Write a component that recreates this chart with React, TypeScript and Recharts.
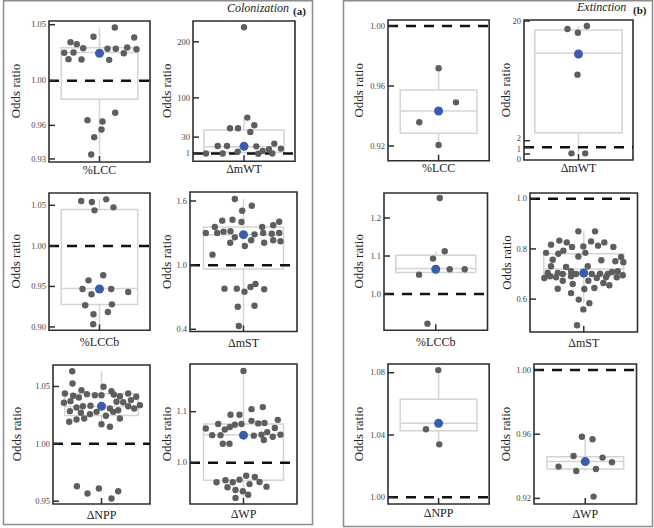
import { ComposedChart, XAxis, YAxis, Scatter, ReferenceArea, ReferenceLine } from "recharts";

const SERIF = '"Liberation Serif", "Times New Roman", serif';

// points: [swarm offset, odds ratio]
// box stats: [whisker low, q1, median, q3, whisker high]

// ---- Colonization (a)
const colLCC = [
  [15.3, 1.0475], [-6, 1.0392], [34.7, 1.0386], [-29, 1.0344], [-22.7, 1.0326],
  [-16.3, 1.029], [8, 1.0285], [16.3, 1.0285], [27.7, 1.0296], [37, 1.0281],
  [-35.3, 1.0249], [-26, 1.0252], [24.3, 1.0245], [-31, 1.0192], [-18, 1.0189], [9.7, 1.0186],
  [15.7, 0.9713], [-12, 0.9647], [3, 0.9635], [2, 0.9563], [-5.3, 0.9495], [-8.3, 0.934],
];
const colLCCBox = [0.934, 0.9834, 1.0252, 1.0294, 1.0475];
const colLCCMean = 1.0245;

const colMWT = [
  [0, 226], [3.3, 64.8], [-14, 45.8], [-6, 45.8], [10.3, 51.1], [6.3, 39.2],
  [-26.3, 14.2], [-17, 14.2], [12.3, 13.6], [30.3, 18.5], [25, 8.3], [37, 9.5],
  [18.7, 5.3], [-6.3, 4.2], [-38, 0.8], [-21.3, 0.8], [14.3, 0.3], [28.3, 0.8],
];
const colMWTBox = [0.3, 3, 13, 42.7, 64.8];
const colMWTMean = 13.6;

const colLCCb = [
  [-18.3, 1.0553], [-7.6, 1.0541], [6.7, 1.0574], [14, 1.0475], [-5, 1.0438],
  [3.7, 0.9637], [-11, 0.9575], [-17, 0.9468], [11.7, 0.9468], [28.7, 0.9431],
  [-8, 0.9403], [-14.3, 0.9267], [12.4, 0.9279], [8.4, 0.9184], [-6, 0.9156], [-6.3, 0.9033],
];
const colLCCbBox = [0.9033, 0.9276, 0.9473, 1.0447, 1.0574];
const colLCCbMean = 0.9468;

const colMST = [
  [-8.7, 1.619], [8.3, 1.556], [-1.3, 1.509], [-21.3, 1.416], [-11, 1.425], [-2, 1.404],
  [-28.7, 1.357], [18.7, 1.357], [29.7, 1.373], [35.7, 1.406], [-37.7, 1.301], [-26.3, 1.301],
  [-20, 1.313], [-13, 1.317], [-8.7, 1.26], [11, 1.288], [19.7, 1.301], [28.3, 1.294],
  [35.7, 1.301], [-13.3, 1.21], [1.3, 1.179], [7.7, 1.232], [20.7, 1.21], [29.7, 1.232],
  [37, 1.223], [-31, 1.098], [-19, 0.78], [-6.7, 0.78], [1, 0.752], [7, 0.796],
  [12, 0.824], [20.7, 0.774], [-5.7, 0.611], [11, 0.62], [-4.7, 0.431],
];
const colMSTBox = [0.431, 0.964, 1.285, 1.357, 1.619];
const colMSTMean = 1.285;

const colNPP = [
  [-29.3, 1.0633], [-29, 1.0526], [2, 1.0497], [-20, 1.0468], [-36.6, 1.0439], [-28.3, 1.0419],
  [-22.6, 1.0404], [-14.6, 1.0433], [-6.6, 1.0424], [0, 1.0424], [10, 1.0459], [12.3, 1.043],
  [18.4, 1.0415], [26.7, 1.0439], [34.7, 1.041], [-37.6, 1.0358], [-31, 1.0372], [-25, 1.0317],
  [-18.6, 1.0328], [-11, 1.0332], [8.4, 1.0308], [15, 1.0367], [21.7, 1.0363], [29.4, 1.0381],
  [26.7, 1.0328], [32.7, 1.0308], [38.4, 1.0337], [-31.6, 1.0285], [-20.6, 1.0271], [-11.6, 1.0259],
  [-5, 1.0279], [11.7, 1.0279], [16.7, 1.0293], [-32.3, 1.0192], [-25, 1.0212], [-17.3, 1.0221],
  [4.4, 1.0245], [18.4, 1.0221], [0, 1.0171], [8.4, 1.0149],
  [-24.6, 0.9631], [-14, 0.9567], [-2.6, 0.9611], [10, 0.9524], [16.7, 0.9587],
];
const colNPPBox = [1.0149, 1.0247, 1.0326, 1.0436, 1.0633];
const colNPPMean = 1.0328;

const colWP = [
  [0, 1.18], [-13, 1.094], [-4, 1.094], [8, 1.105], [19.3, 1.109], [34.3, 1.084],
  [-25.3, 1.076], [-8.7, 1.0745], [-2, 1.076], [8, 1.082], [14.7, 1.077], [21, 1.078],
  [-37.7, 1.067], [-18.7, 1.065], [-13.7, 1.07], [31.3, 1.068], [-31.3, 1.054], [-23, 1.054],
  [10.3, 1.053], [18, 1.055], [23.7, 1.06], [29.3, 1.051], [37, 1.055], [20.3, 1.0445],
  [-20.7, 1.037], [-14, 1.037],
  [-27, 0.9616], [-18, 0.9655], [-10.7, 0.9616], [-4, 0.9667], [2.7, 0.9745], [11.3, 0.972],
  [16, 0.962], [23, 0.953], [-16, 0.9518], [-8, 0.9465], [-0.7, 0.944], [6, 0.958],
  [4.7, 0.937], [-8, 0.931],
];
const colWPBox = [0.931, 0.9655, 1.055, 1.076, 1.18];
const colWPMean = 1.054;

// ---- Extinction (b)
const extLCC = [[0, 0.9718], [17.4, 0.9491], [-19.3, 0.9358], [0, 0.9207]];
const extLCCBox = [0.9207, 0.9285, 0.9433, 0.9573, 0.9718];
const extLCCMean = 0.9433;

const extMWT = [[-11, 18.8], [8.4, 19.25], [-0.6, 18.24], [-1, 11.93], [-7, 0.1], [6.7, 0.1]];
const extMWTBox = [0.1, 3.2, 15.14, 18.65, 19.25];
const extMWTMean = 15.04;

const extLCCb = [
  [4, 1.2526], [9, 1.1124], [-2.7, 1.0932], [-16.7, 1.051], [14, 1.065], [29, 1.065], [-8.3, 0.922],
];
const extLCCbBox = [1.051, 1.0563, 1.0668, 1.1018, 1.1124];
const extLCCbMean = 1.065;

const extMST = [
  [-5.4, 0.87], [11.3, 0.87], [-32.7, 0.817], [-24.4, 0.833], [-17, 0.826], [-11.7, 0.808],
  [-0.4, 0.81], [7.3, 0.83], [14.3, 0.813], [20.6, 0.826], [29.6, 0.808], [-37.7, 0.784],
  [-25.4, 0.781], [-20.4, 0.793], [-5.4, 0.77], [1.6, 0.784], [37.3, 0.768], [-31, 0.757],
  [17.6, 0.755], [31.6, 0.751], [39.6, 0.747], [-32.7, 0.731], [-17.7, 0.728], [4, 0.731],
  [-36, 0.704], [-26, 0.704], [-21, 0.7], [-12.7, 0.711], [-7.7, 0.7], [8, 0.7],
  [16.3, 0.701], [24, 0.7], [28.3, 0.708], [34, 0.711], [39, 0.695], [-39.4, 0.684],
  [-33.7, 0.691], [-27.7, 0.687], [-21, 0.673], [-12.7, 0.691], [4.6, 0.673], [13, 0.684],
  [19.6, 0.664], [25.6, 0.655], [33, 0.687], [22.3, 0.687], [-26, 0.641], [-11, 0.66],
  [0.6, 0.64], [10.6, 0.644], [-12.7, 0.624], [-5, 0.598], [5.6, 0.584], [-0.4, 0.559], [-6.7, 0.496],
];
const extMSTBox = [0.584, 0.7, 0.72, 0.781, 0.87];
const extMSTMean = 0.704;

const extNPP = [[-0.3, 1.0817], [-12.6, 1.0437], [0.7, 1.034]];
const extNPPBox = [1.034, 1.0428, 1.0475, 1.0629, 1.0817];
const extNPPMean = 1.0475;

const extWP = [
  [-3.3, 0.9584], [7.3, 0.9568], [-11.7, 0.9464], [17.3, 0.9454], [26.7, 0.9425],
  [-26.7, 0.9398], [-9, 0.9371], [10.7, 0.9383], [8.3, 0.9211],
];
const extWPBox = [0.9371, 0.9383, 0.9429, 0.946, 0.9568];
const extWPMean = 0.9429;

type Panel = {
  name: string;
  pts: number[][];
  box: number[];
  mean: number;
  ticks: number[];
  tickLabels: string[];
  domain: [number, number];
  frame: number[]; // left, top, right, bottom (px)
  half: number;
  labelX: number;
  gap: number;
  labelShift?: number[]; // small vertical nudges for crowded tick labels
};

const panels: Panel[] = [
  { name: "%LCC", pts: colLCC, box: colLCCBox, mean: colLCCMean, ticks: [0.93, 0.96, 1.0, 1.05], tickLabels: ["0.93", "0.96", "1.00", "1.05"], domain: [0.9273, 1.0533], frame: [48.5, 20.5, 149.5, 161.5], half: 38.3, labelX: 15, gap: 11.5 },
  { name: "ΔmWT", pts: colMWT, box: colMWTBox, mean: colMWTMean, ticks: [1, 30, 100, 200], tickLabels: ["1", "30", "100", "200"], domain: [-13.1, 237.1], frame: [192.5, 20.7, 294.5, 161], half: 40, labelX: 166.7, gap: 11.5 },
  { name: "%LCCb", pts: colLCCb, box: colLCCbBox, mean: colLCCbMean, ticks: [0.9, 0.95, 1.0, 1.05], tickLabels: ["0.90", "0.95", "1.00", "1.05"], domain: [0.8959, 1.0652], frame: [48.5, 192.7, 149.5, 330], half: 38.2, labelX: 15, gap: 15.5 },
  { name: "ΔmST", pts: colMST, box: colMSTBox, mean: colMSTMean, ticks: [0.4, 1.0, 1.6], tickLabels: ["0.4", "1.0", "1.6"], domain: [0.3792, 1.684], frame: [190, 192, 297, 331.5], half: 40, labelX: 166.7, gap: 15 },
  { name: "ΔNPP", pts: colNPP, box: colNPPBox, mean: colNPPMean, ticks: [0.95, 1.0, 1.05], tickLabels: ["0.95", "1.00", "1.05"], domain: [0.9476, 1.0687], frame: [52.5, 364.5, 149.5, 503.5], half: 36.7, labelX: 16.5, gap: 14.5 },
  { name: "ΔWP", pts: colWP, box: colWPBox, mean: colWPMean, ticks: [1.0, 1.1], tickLabels: ["1.0", "1.1"], domain: [0.919, 1.1935], frame: [190, 364, 297, 504], half: 40, labelX: 166.7, gap: 14 },
  { name: "%LCC", pts: extLCC, box: extLCCBox, mean: extLCCMean, ticks: [0.92, 0.96, 1.0], tickLabels: ["0.92", "0.96", "1.00"], domain: [0.9102, 1.004], frame: [388.3, 20, 489.5, 160.7], half: 38.4, labelX: 358.3, gap: 11.5 },
  { name: "ΔmWT", pts: extMWT, box: extMWTBox, mean: extMWTMean, ticks: [0, 1, 2, 20], tickLabels: ["0", "1", "2", "20"], domain: [-0.9, 20.15], frame: [524, 20, 633, 160], half: 43.7, labelX: 505, gap: 11.5, labelShift: [5, 1.5, -2.5, 0] },
  { name: "%LCCb", pts: extLCCb, box: extLCCbBox, mean: extLCCbMean, ticks: [1.0, 1.1, 1.2], tickLabels: ["1.0", "1.1", "1.2"], domain: [0.9045, 1.2658], frame: [383.5, 192.7, 487, 330], half: 40, labelX: 358.3, gap: 15.5 },
  { name: "ΔmST", pts: extMST, box: extMSTBox, mean: extMSTMean, ticks: [0.6, 0.8, 1.0], tickLabels: ["0.6", "0.8", "1.0"], domain: [0.469, 1.0227], frame: [530, 193, 637.5, 332], half: 40, labelX: 506.7, gap: 15 },
  { name: "ΔNPP", pts: extNPP, box: extNPPBox, mean: extNPPMean, ticks: [1.0, 1.04, 1.08], tickLabels: ["1.00", "1.04", "1.08"], domain: [0.9957, 1.0856], frame: [388.3, 364, 489.5, 504], half: 38.4, labelX: 358.3, gap: 13.5 },
  { name: "ΔWP", pts: extWP, box: extWPBox, mean: extWPMean, ticks: [0.92, 0.96, 1.0], tickLabels: ["0.92", "0.96", "1.00"], domain: [0.9165, 1.0037], frame: [534, 364, 636.5, 504], half: 38.4, labelX: 505, gap: 13.5 },
];

const ML = 32;
const MT = 6;
const MR = 6;
const MB = 24;
const BOX = "#d4d4d4";
const FRAME = "#2e2e2e";

function BoxPanel({ p }: { p: Panel }) {
  const [l, t, r, b] = p.frame;
  const fw = r - l;
  const fh = b - t;
  const hw = fw / 2;
  const [lo, q1, med, q3, hi] = p.box;
  const data = p.pts.map(([x, y]) => ({ x, y }));
  const meanData = [{ x: 0, y: p.mean }];

  return (
    <div style={{ position: "absolute", left: l - ML, top: t - MT }}>
      <ComposedChart width={fw + ML + MR} height={fh + MT + MB} margin={{ top: MT, right: MR, bottom: 0, left: 0 }}>
        <XAxis
          type="number"
          dataKey="x"
          domain={[-hw, hw]}
          ticks={[0]}
          interval={0}
          allowDataOverflow
          height={MB}
          axisLine={false}
          tickLine={false}
          tickSize={0}
          tickMargin={0}
          tick={(props: any) => (
            <g>
              <line x1={props.x} x2={props.x} y1={props.y} y2={props.y - 6} stroke={FRAME} strokeWidth={1.5} />
              <text x={props.x} y={props.y + p.gap} textAnchor="middle" fontSize={12} fontFamily={SERIF} fill="#222">
                {p.name}
              </text>
            </g>
          )}
        />
        <YAxis
          type="number"
          dataKey="y"
          domain={p.domain}
          ticks={p.ticks}
          interval={0}
          allowDataOverflow
          width={ML}
          axisLine={false}
          tickLine={false}
          tickSize={0}
          tickMargin={0}
          tick={(props: any) => {
            const idx = p.ticks.indexOf(props.payload.value);
            const shift = p.labelShift ? p.labelShift[idx] : 0;
            return (
              <g>
                <line x1={props.x} x2={props.x + 6} y1={props.y} y2={props.y} stroke={FRAME} strokeWidth={1.5} />
                <text x={props.x - 3} y={props.y + shift} dy="0.32em" textAnchor="end" fontSize={8.5} fontFamily={SERIF} fill="#444">
                  {p.tickLabels[idx]}
                </text>
              </g>
            );
          }}
        />
        <ReferenceArea x1={-p.half} x2={p.half} y1={q1} y2={q3} fill="none" stroke={BOX} strokeWidth={1.5} ifOverflow="visible" />
        <ReferenceLine segment={[{ x: 0, y: q3 }, { x: 0, y: hi }]} stroke={BOX} strokeWidth={1.5} ifOverflow="visible" />
        <ReferenceLine segment={[{ x: 0, y: lo }, { x: 0, y: q1 }]} stroke={BOX} strokeWidth={1.5} ifOverflow="visible" />
        <ReferenceLine segment={[{ x: -p.half, y: med }, { x: p.half, y: med }]} stroke={BOX} strokeWidth={1.5} ifOverflow="visible" />
        <ReferenceLine y={1} stroke="#111" strokeWidth={2.5} strokeDasharray="10 8" ifOverflow="visible" />
        <Scatter
          data={data}
          isAnimationActive={false}
          shape={(s: any) => <circle cx={s.cx} cy={s.cy} r={3.2} fill="#5e5e5e" />}
        />
        <Scatter
          data={meanData}
          isAnimationActive={false}
          shape={(s: any) => <circle cx={s.cx} cy={s.cy} r={4.5} fill="#3b5bab" />}
        />
        <ReferenceArea x1={-hw} x2={hw} y1={p.domain[0]} y2={p.domain[1]} fill="none" stroke={FRAME} strokeWidth={1.6} ifOverflow="visible" />
      </ComposedChart>
    </div>
  );
}

export default function App() {
  return (
    <div style={{ position: "absolute", left: 0, top: 0, width: 654, height: 528, background: "#fff" }}>
      {panels.map((p, i) => (
        <BoxPanel key={i} p={p} />
      ))}
      <svg width={654} height={528} style={{ position: "absolute", left: 0, top: 0, pointerEvents: "none" }}>
        <rect x={3.5} y={0.75} width={309} height={523.75} fill="none" stroke="#8c8c8c" strokeWidth={1.5} />
        <rect x={343.5} y={0.75} width={309} height={525.75} fill="none" stroke="#8c8c8c" strokeWidth={1.5} />
        <text x={227} y={12} fontSize={12} fontStyle="italic" fontFamily={SERIF} fill="#222">Colonization</text>
        <text x={293} y={15} fontSize={11} fontWeight="bold" fontFamily={SERIF} fill="#222">(a)</text>
        <text x={577} y={11} fontSize={12} fontStyle="italic" fontFamily={SERIF} fill="#222">Extinction</text>
        <text x={633} y={14} fontSize={11} fontWeight="bold" fontFamily={SERIF} fill="#222">(b)</text>
        {panels.map((p, i) => (
          <text
            key={i}
            transform={`translate(${p.labelX}, ${(p.frame[1] + p.frame[3]) / 2}) rotate(-90)`}
            textAnchor="middle"
            dominantBaseline="central"
            fontSize={13}
            fontFamily={SERIF}
            fill="#222"
          >
            Odds ratio
          </text>
        ))}
      </svg>
    </div>
  );
}
